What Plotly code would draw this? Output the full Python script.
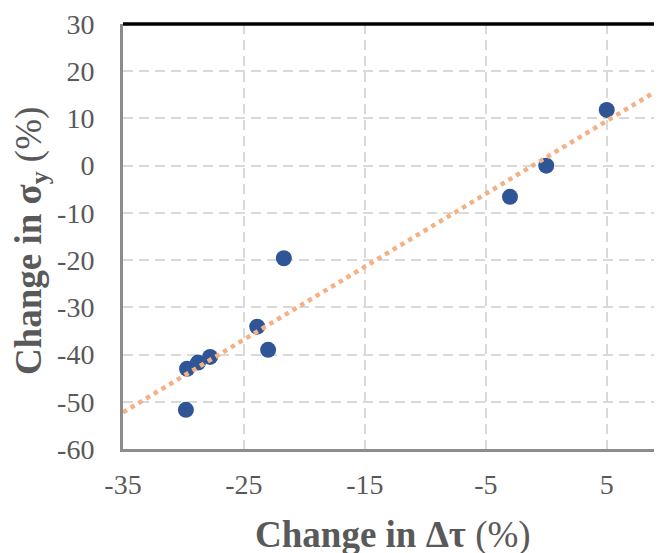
import numpy as np
import plotly.graph_objects as go

# Data
dtau_change = [5, 0, -3, -21.7, -23.9, -23.0, -27.8, -28.8, -29.7, -29.8]
sigma_change = [11.8, 0, -6.6, -19.6, -34.1, -39.0, -40.5, -41.7, -43.0, -51.7]

x_ticks = [-35, -25, -15, -5, 5]
y_ticks = [30, 20, 10, 0, -10, -20, -30, -40, -50, -60]
x_range = [-35, 9.57]
y_range = [-60, 30]

# Linear trendline (least squares fit of the data)
slope, intercept = np.polyfit(dtau_change, sigma_change, 1)
trend_x = np.array(x_range)
trend_y = slope * trend_x + intercept

FONT = "Liberation Serif, Times New Roman, serif"
GRAY = "#595959"

fig = go.Figure()
fig.add_trace(go.Scatter(
    x=dtau_change, y=sigma_change, mode="markers",
    marker=dict(size=16, color="#2F5597", line=dict(width=0)),
    showlegend=False, cliponaxis=False,
))
fig.add_trace(go.Scatter(
    x=trend_x, y=trend_y, mode="lines",
    line=dict(color="#F4B183", width=4.5, dash="4.5px,4.5px"),
    showlegend=False,
))

# The page body has an 8px default margin; the figure is sized to fill the rest.
fig.update_layout(
    width=654, height=545,
    margin=dict(l=115, r=0, t=16, b=104),
    paper_bgcolor="white", plot_bgcolor="white",
    font=dict(family=FONT, color=GRAY),
    xaxis=dict(
        range=x_range, tickvals=x_ticks, ticktext=[str(v) for v in x_ticks],
        showgrid=True, gridcolor="#d9d9d9", gridwidth=2, griddash="10px,6px",
        zeroline=False, showline=True, linecolor="#8c8c8c", linewidth=3,
        ticks="", ticklabelstandoff=8, automargin=False,
        tickfont=dict(size=28, color=GRAY, family=FONT),
    ),
    yaxis=dict(
        range=y_range, tickvals=y_ticks, ticktext=[str(v) for v in y_ticks],
        showgrid=True, gridcolor="#d9d9d9", gridwidth=2, griddash="10px,6px",
        zeroline=False, showline=True, linecolor="#8c8c8c", linewidth=3,
        ticks="", ticklabelstandoff=20, automargin=False,
        tickfont=dict(size=28, color=GRAY, family=FONT),
    ),
    shapes=[dict(type="line", xref="paper", yref="paper", x0=0, x1=1, y0=1, y1=1,
                 line=dict(color="black", width=3.5))],
    annotations=[
        dict(text="<b>Change in Δτ</b> (%)", xref="paper", yref="paper",
             x=0.5, y=-0.203, xanchor="center", yanchor="middle", showarrow=False,
             font=dict(size=37, color=GRAY, family=FONT)),
        dict(text="<b>Change in σ<sub>y</sub></b> (%)", xref="paper", yref="paper",
             x=-0.17, y=0.49, xanchor="center", yanchor="middle", showarrow=False,
             textangle=-90, font=dict(size=37, color=GRAY, family=FONT)),
    ],
)

fig.write_html("out.html")
